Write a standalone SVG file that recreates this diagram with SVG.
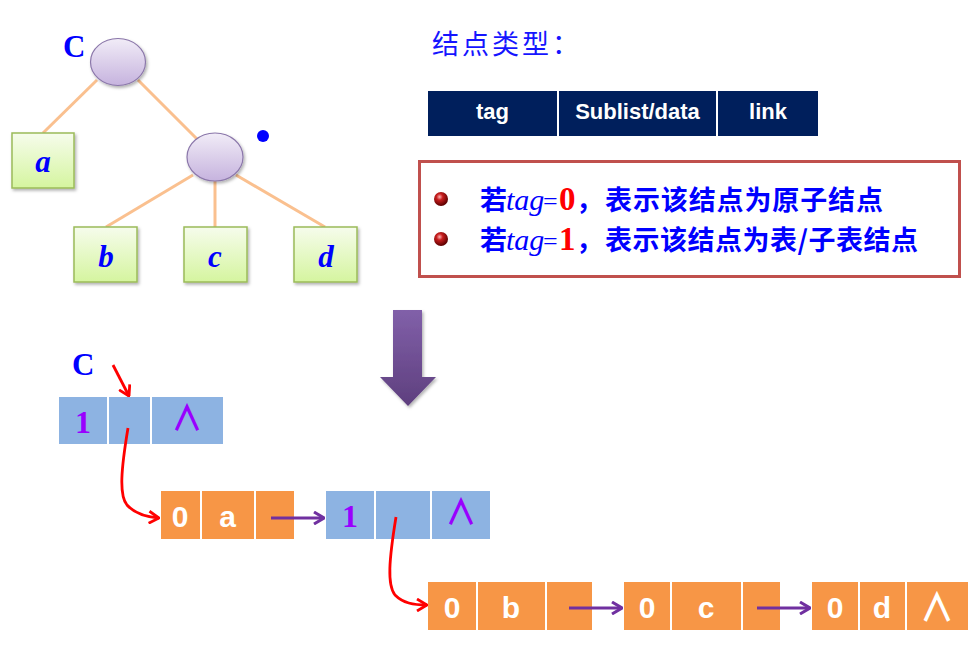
<svg xmlns="http://www.w3.org/2000/svg" width="977" height="648" viewBox="0 0 977 648">
<defs>
<style>
.tree-edge{stroke:#FAC08F;stroke-width:3;fill:none}
.ell{fill:url(#gEll);stroke:#8B77AA;stroke-width:1.2}
.leaf{fill:url(#gLeaf);stroke:#9BBB59;stroke-width:1.5}
.leaflbl{font-family:"Liberation Serif",serif;font-weight:bold;font-style:italic;font-size:31px;fill:#0000FF;text-anchor:middle}
.bigC{font-family:"Liberation Serif",serif;font-weight:bold;font-size:31px;fill:#0000FF}
.blue{fill:#8DB3E2}
.orange{fill:#F79646}
.one{font-family:"Liberation Serif",serif;font-weight:bold;font-size:32px;fill:#9900FF;text-anchor:middle}
.nil{font-family:"Noto Sans CJK SC",sans-serif;font-weight:bold;font-size:31px;fill:#9900FF;text-anchor:middle}
.wt{font-family:"Liberation Sans",sans-serif;font-weight:bold;font-size:30px;fill:#FFFFFF;text-anchor:middle}
.hdr{fill:#001F5C}
.hdrt{font-family:"Liberation Sans",sans-serif;font-weight:bold;font-size:22px;fill:#FFFFFF;text-anchor:middle}
.cjk{font-family:"Noto Sans CJK SC",sans-serif;font-weight:bold;font-size:27px;fill:#0000FF}
.it{font-family:"Liberation Serif",serif;font-style:italic;font-size:30px;fill:#0000FF}
.eq{font-family:"Liberation Serif",serif;font-size:26px;fill:#0000FF}
.num{font-family:"Liberation Serif",serif;font-weight:bold;font-size:33px;fill:#FF0000}
.red-link{stroke:#FF0000;stroke-width:2.8;fill:none}
.pur-link{stroke:#7030A0;stroke-width:3;fill:none}
</style>
<linearGradient id="gEll" x1="0" y1="0" x2="0" y2="1">
<stop offset="0" stop-color="#F1ECF7"/>
<stop offset="1" stop-color="#C6B3DE"/>
</linearGradient>
<linearGradient id="gLeaf" x1="0" y1="0" x2="0" y2="1">
<stop offset="0" stop-color="#F6FCEC"/>
<stop offset="1" stop-color="#D5F59F"/>
</linearGradient>
<linearGradient id="gArrow" x1="0" y1="0" x2="0" y2="1">
<stop offset="0" stop-color="#8160A9"/>
<stop offset="1" stop-color="#5E3F7E"/>
</linearGradient>
<radialGradient id="gBall" cx="0.4" cy="0.35" r="0.65">
<stop offset="0" stop-color="#FFB3B3"/>
<stop offset="0.35" stop-color="#C81E1E"/>
<stop offset="1" stop-color="#5A0000"/>
</radialGradient>
<filter id="sh" x="-20%" y="-20%" width="150%" height="150%">
<feDropShadow dx="1.5" dy="2" stdDeviation="1.5" flood-color="#000" flood-opacity="0.3"/>
</filter>
<marker id="mRed" viewBox="0 0 12 14" refX="11" refY="7" markerWidth="12" markerHeight="14" markerUnits="userSpaceOnUse" orient="auto">
<path d="M1,1 L11,7 L1,13" fill="none" stroke="#FF0000" stroke-width="2.8"/>
</marker>
<marker id="mPur" viewBox="0 0 12 14" refX="11" refY="7" markerWidth="12" markerHeight="14" markerUnits="userSpaceOnUse" orient="auto">
<path d="M1,1 L11,7 L1,13" fill="none" stroke="#7030A0" stroke-width="3"/>
</marker>
</defs>
<rect width="977" height="648" fill="#FFFFFF"/>

<!-- Tree connectors -->
<g id="tree-edges">
<line class="tree-edge" x1="97" y1="80" x2="43" y2="133"/>
<line class="tree-edge" x1="138" y1="80" x2="197" y2="139"/>
<line class="tree-edge" x1="193" y1="175" x2="106" y2="227"/>
<line class="tree-edge" x1="215" y1="181" x2="215" y2="227"/>
<line class="tree-edge" x1="236" y1="175" x2="325" y2="227"/>
</g>

<g id="tree-root">
<ellipse class="ell" cx="118" cy="62" rx="27.5" ry="23.5" filter="url(#sh)"/>
<text class="bigC" x="63" y="57">C</text>
</g>
<g id="tree-sub">
<ellipse class="ell" cx="215" cy="157" rx="28" ry="24" filter="url(#sh)"/>
<circle cx="263" cy="136" r="6" fill="#0000FF"/>
</g>
<g id="leaf-a">
<rect class="leaf" x="12" y="133" width="62" height="55" filter="url(#sh)"/>
<text class="leaflbl" x="43" y="172">a</text>
</g>
<g id="leaf-b">
<rect class="leaf" x="74" y="227" width="63" height="55" filter="url(#sh)"/>
<text class="leaflbl" x="106" y="267">b</text>
</g>
<g id="leaf-c">
<rect class="leaf" x="184" y="227" width="63" height="55" filter="url(#sh)"/>
<text class="leaflbl" x="215" y="267">c</text>
</g>
<g id="leaf-d">
<rect class="leaf" x="294" y="227" width="63" height="55" filter="url(#sh)"/>
<text class="leaflbl" x="326" y="267">d</text>
</g>

<!-- Node type -->
<g id="title">
<text x="432" y="54" font-family="'Noto Sans CJK SC',sans-serif" font-size="27" letter-spacing="3" fill="#1515FF">结点类型：</text>
</g>
<g id="node-format">
<rect class="hdr" x="428" y="91" width="129" height="45"/>
<rect class="hdr" x="559" y="91" width="157" height="45"/>
<rect class="hdr" x="718" y="91" width="100" height="45"/>
<text class="hdrt" x="492.5" y="119">tag</text>
<text class="hdrt" x="637.5" y="119">Sublist/data</text>
<text class="hdrt" x="768" y="119">link</text>
</g>

<g id="legend">
<rect x="419.5" y="161.5" width="540" height="115" fill="#FFFFFF" stroke="#C0504D" stroke-width="3"/>
<circle cx="441" cy="199" r="7" fill="url(#gBall)"/>
<circle cx="441" cy="239" r="7" fill="url(#gBall)"/>
<text class="cjk" x="480" y="210">若</text>
<text class="it" x="506" y="210">tag</text>
<text class="eq" x="543" y="210">=</text>
<text class="num" x="559" y="210">0</text>
<text class="cjk" x="576" y="210">，</text>
<text class="cjk" x="605" y="210" textLength="278" lengthAdjust="spacing">表示该结点为原子结点</text>
<text class="cjk" x="480" y="250">若</text>
<text class="it" x="506" y="250">tag</text>
<text class="eq" x="543" y="250">=</text>
<text class="num" x="559" y="250">1</text>
<text class="cjk" x="576" y="250">，</text>
<text class="cjk" x="605" y="250" textLength="313" lengthAdjust="spacing">表示该结点为表/子表结点</text>
</g>

<g id="big-arrow">
<polygon points="393,310 422,310 422,377 436,377 408,406 380,377 393,377" fill="url(#gArrow)" filter="url(#sh)"/>
</g>

<!-- Storage structure -->
<g id="label-C">
<text class="bigC" x="72" y="375">C</text>
</g>
<g id="node-C">
<rect class="blue" x="59" y="397" width="48" height="47"/>
<rect class="blue" x="109" y="397" width="41" height="47"/>
<rect class="blue" x="152" y="397" width="71" height="47"/>
<text class="one" x="83" y="433">1</text>
<text class="nil" transform="translate(187,431) scale(1,1.15)">∧</text>
</g>
<g id="node-a">
<rect class="orange" x="161" y="491" width="39" height="48"/>
<rect class="orange" x="202" y="491" width="52" height="48"/>
<rect class="orange" x="256" y="491" width="38" height="48"/>
<text class="wt" x="180" y="527" font-size="28">0</text>
<text class="wt" x="227.5" y="527" font-size="28">a</text>
</g>
<g id="node-sub">
<rect class="blue" x="326" y="491" width="48" height="48"/>
<rect class="blue" x="376" y="491" width="54" height="48"/>
<rect class="blue" x="432" y="491" width="58" height="48"/>
<text class="one" x="350" y="527">1</text>
<text class="nil" transform="translate(461,525) scale(1,1.15)">∧</text>
</g>
<g id="node-b">
<rect class="orange" x="428" y="582" width="48" height="48"/>
<rect class="orange" x="478" y="582" width="67" height="48"/>
<rect class="orange" x="547" y="582" width="45" height="48"/>
<text class="wt" x="452" y="618">0</text>
<text class="wt" x="511" y="618">b</text>
</g>
<g id="node-c">
<rect class="orange" x="624" y="582" width="46" height="48"/>
<rect class="orange" x="672" y="582" width="69" height="48"/>
<rect class="orange" x="743" y="582" width="37" height="48"/>
<text class="wt" x="647" y="618">0</text>
<text class="wt" x="706" y="618">c</text>
</g>
<g id="node-d">
<rect class="orange" x="812" y="582" width="46" height="48"/>
<rect class="orange" x="860" y="582" width="45" height="48"/>
<rect class="orange" x="907" y="582" width="61" height="48"/>
<text class="wt" x="835" y="618">0</text>
<text class="wt" x="882" y="618">d</text>
<text class="nil" transform="translate(937,621) scale(1,1.15)" style="fill:#FFFFFF;font-size:34px">∧</text>
</g>

<g id="connectors">
<line class="red-link" x1="113" y1="365" x2="129" y2="396" marker-end="url(#mRed)"/>
<path class="red-link" d="M128,428 C121,470 119,495 127,505 C135,514 146,517 159,518" marker-end="url(#mRed)"/>
<path class="red-link" d="M396,517 C389,560 387,585 395,595 C403,603 413,605 427,605" marker-end="url(#mRed)"/>
<line class="pur-link" x1="271" y1="518" x2="324" y2="518" marker-end="url(#mPur)"/>
<line class="pur-link" x1="569" y1="608" x2="622" y2="608" marker-end="url(#mPur)"/>
<line class="pur-link" x1="757" y1="608" x2="810" y2="608" marker-end="url(#mPur)"/>
</g>
</svg>
